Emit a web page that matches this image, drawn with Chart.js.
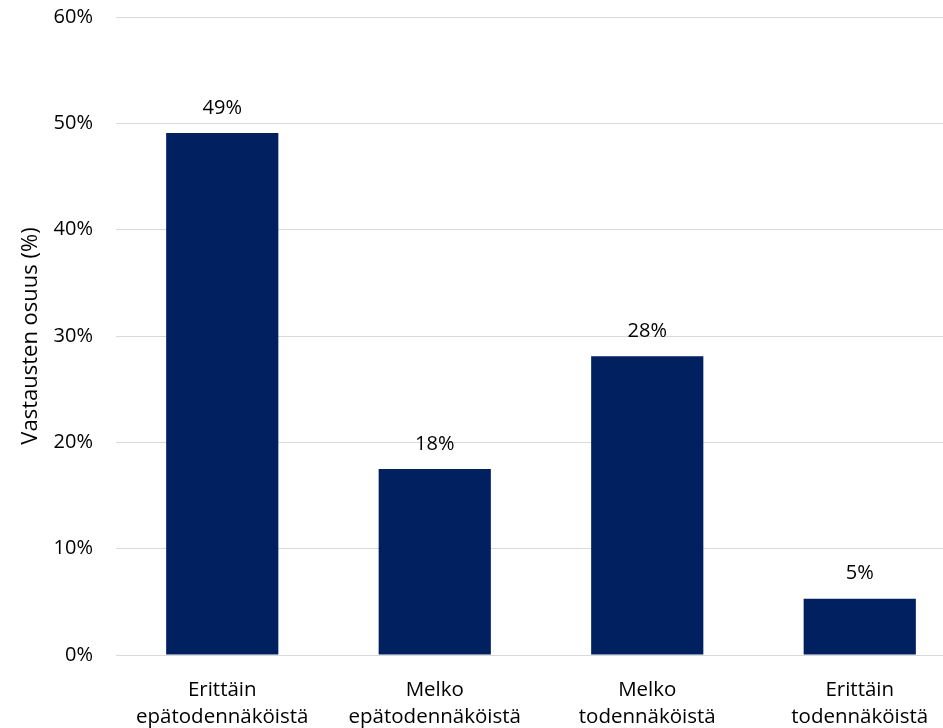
<!DOCTYPE html>
<html>
<head>
<meta charset="utf-8">
<script src="https://cdn.jsdelivr.net/npm/chart.js@4"></script>
<style>
  html, body { margin: 0; padding: 0; background: #fff; overflow: hidden; }
  #wrap { width: 966px; height: 728px; }
</style>
</head>
<body>
<div id="wrap"><canvas id="kaavio" width="966" height="728"></canvas></div>
<script>
// vastausvaihtoehdot (kaksi riviä per nimike)
const luokat = [
  ["Erittäin", "epätodennäköistä"],
  ["Melko", "epätodennäköistä"],
  ["Melko", "todennäköistä"],
  ["Erittäin", "todennäköistä"]
];
const osuudet = [49.1, 17.5, 28.1, 5.3]; // vastausten osuus %
const yTikit = [0, 10, 20, 30, 40, 50, 60];

const fontti = "'Open Sans', 'Liberation Sans', sans-serif";

// arvot palkkien yläpuolelle
const arvoLabelit = {
  id: "arvoLabelit",
  afterDatasetsDraw(chart) {
    const ctx = chart.ctx;
    const meta = chart.getDatasetMeta(0);
    ctx.save();
    ctx.font = "20px " + fontti;
    ctx.fillStyle = "#000";
    ctx.textAlign = "center";
    ctx.textBaseline = "middle";
    meta.data.forEach((bar, i) => {
      ctx.fillText(Math.round(osuudet[i]) + "%", bar.x, bar.y - 25);
    });
    ctx.restore();
  }
};

new Chart(document.getElementById("kaavio"), {
  type: "bar",
  data: {
    labels: luokat,
    datasets: [{
      data: osuudet,
      backgroundColor: "#002060",
      barPercentage: 0.528,
      categoryPercentage: 1
    }]
  },
  options: {
    responsive: false,
    animation: false,
    layout: { padding: { top: 17, right: 0, left: 0, bottom: 0 } },
    plugins: {
      legend: { display: false },
      tooltip: { enabled: false }
    },
    scales: {
      x: {
        grid: { display: false, drawTicks: false },
        border: { display: true, color: "#d9d9d9", width: 1 },
        ticks: {
          color: "#000",
          font: { family: fontti, size: 20.5, lineHeight: 1.3 },
          padding: 22,
          maxRotation: 0,
          autoSkip: false
        },
        afterFit(scale) { scale.height = 73; }
      },
      y: {
        min: 0,
        max: 60,
        afterBuildTicks(scale) {
          scale.ticks = yTikit.map(v => ({ value: v }));
        },
        grid: { color: "#d9d9d9", drawTicks: false },
        border: { display: false },
        ticks: {
          color: "#000",
          font: { family: fontti, size: 20 },
          padding: 23,
          callback: v => v + "%"
        },
        title: {
          display: true,
          text: "Vastausten osuus (%)",
          color: "#000",
          font: { family: fontti, size: 22 },
          padding: { top: 18, bottom: 0 }
        },
        afterFit(scale) {
          scale.width = 116;
          scale.paddingTop = 0;
          scale.paddingBottom = 0;
        }
      }
    }
  },
  plugins: [arvoLabelit]
});
</script>
</body>
</html>
